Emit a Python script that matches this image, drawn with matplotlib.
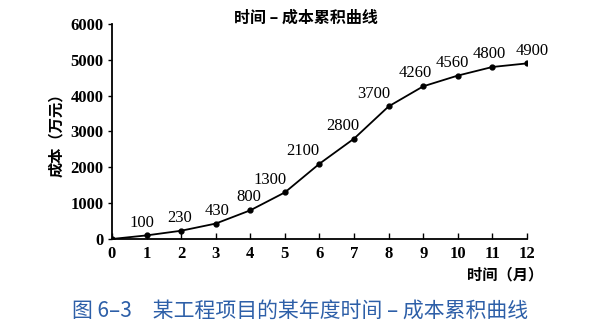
import matplotlib
matplotlib.use("Agg")
from matplotlib import pyplot as plt

months = list(range(13))
cost = [0, 100, 230, 430, 800, 1300, 2100, 2800, 3700, 4260, 4560, 4800, 4900]
labels = ["", "100", "230", "430", "800", "1300", "2100", "2800", "3700", "4260", "4560", "4800", "4900"]
yticks = [0, 1000, 2000, 3000, 4000, 5000, 6000]

# horizontal nudge of each value label (points), the book sets them left of steep parts
label_dx = [0, -3, -1, 1, -1, -11, -12, -8, -11, -6, -4, -2, 4]

cjk = ["Noto Sans CJK SC", "DejaVu Sans"]
serif = ["Liberation Serif", "DejaVu Serif"]

fig = plt.figure(figsize=(6.04, 3.29), dpi=100)
ax = fig.add_axes([0.1854, 0.2736, 0.687, 0.6535])

ax.plot(months, cost, color="black", lw=1.3, marker="o", ms=3.5)
for x, y, t, dx in zip(months, cost, labels, label_dx):
    if t:
        ax.annotate(t, (x, y), xytext=(dx, 3.5), textcoords="offset points",
                    ha="center", va="bottom", fontsize=12, family=serif)

ax.set_xlim(0, 12)
ax.set_ylim(0, 6000)
ax.set_xticks(months)
ax.set_yticks(yticks)
ax.set_xticklabels([str(m) for m in months], family=serif, fontsize=12, fontweight="bold")
ax.set_yticklabels([str(v) for v in yticks], family=serif, fontsize=12, fontweight="bold")
ax.tick_params(axis="x", direction="in", length=4, width=1, pad=5)
ax.tick_params(axis="y", direction="out", length=3, width=1, pad=3)
for s in ["top", "right"]:
    ax.spines[s].set_visible(False)
for s in ["left", "bottom"]:
    ax.spines[s].set_linewidth(1.3)

ax.set_ylabel("成本（万元）", family=cjk, fontsize=11, fontweight="bold", labelpad=5)
fig.text(0.9, 0.165, "时间（月）", family=cjk, fontsize=11, fontweight="bold", ha="right", va="center")
fig.text(0.506, 0.945, "时间 – 成本累积曲线", family=cjk, fontsize=11.5, fontweight="bold", ha="center", va="center")
fig.text(0.497, 0.055, "图 6–3　某工程项目的某年度时间 – 成本累积曲线", family=cjk, fontsize=15,
         color="#2d5fa8", ha="center", va="center")

fig.savefig("out.png", dpi=100)
